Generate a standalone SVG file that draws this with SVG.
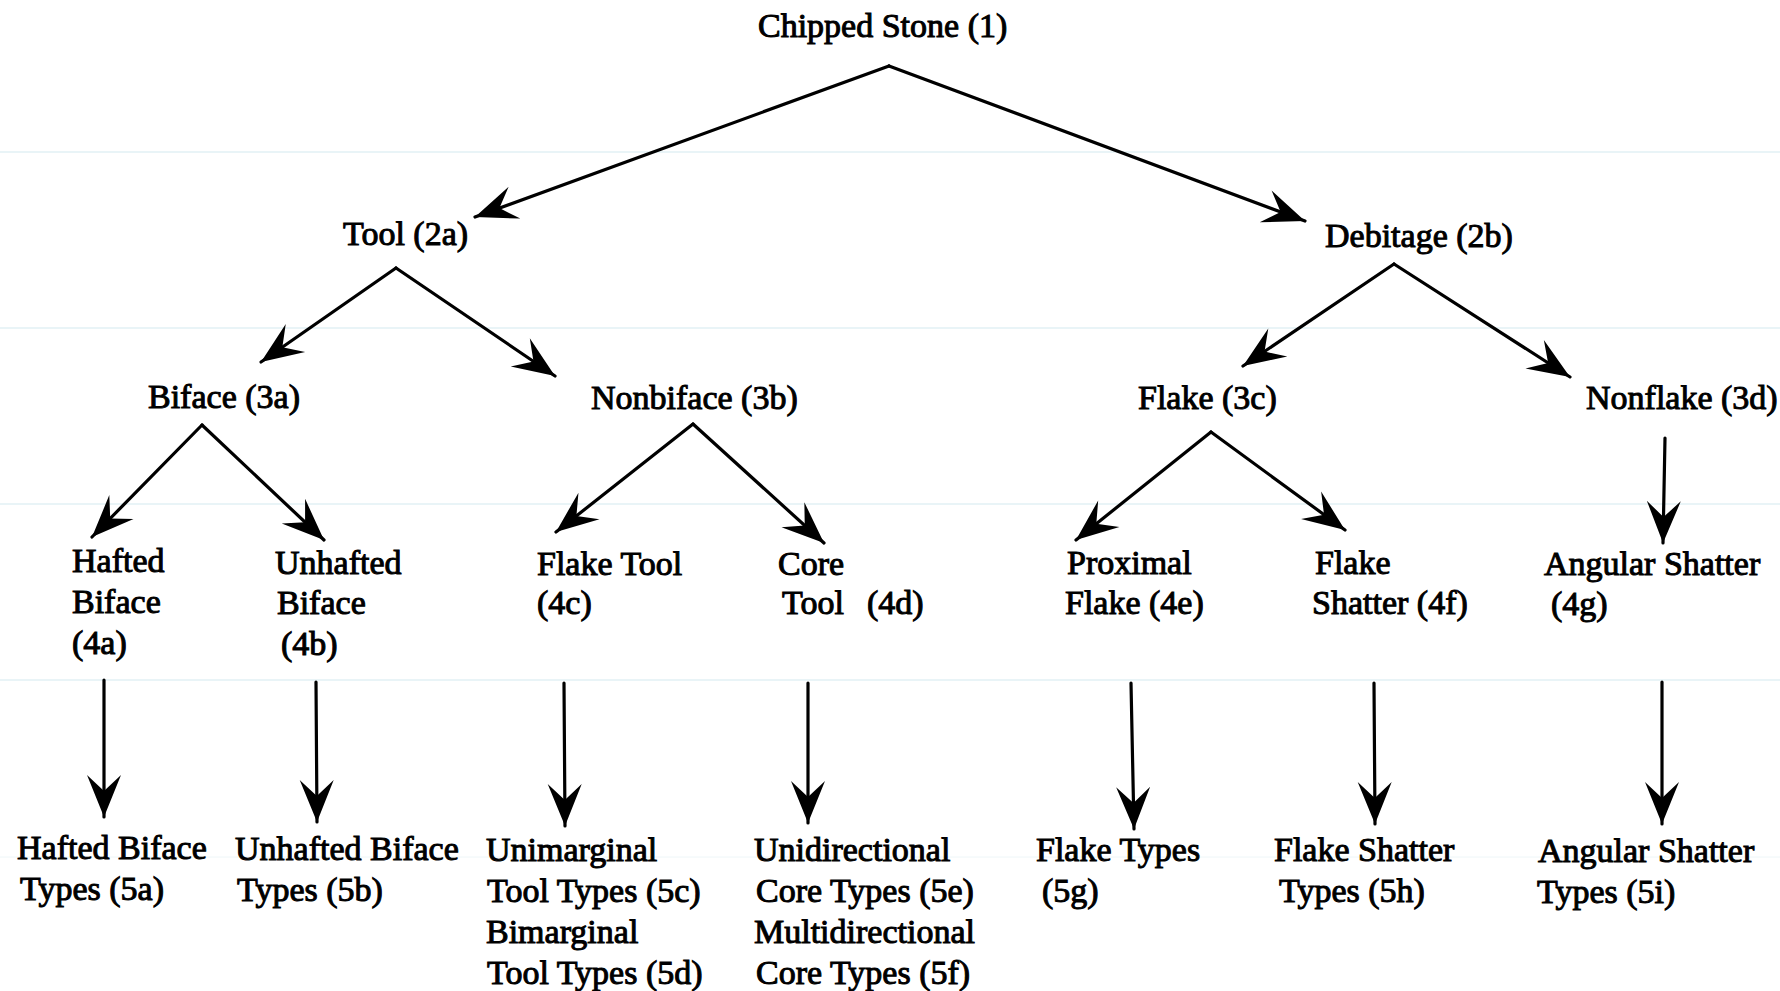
<svg xmlns="http://www.w3.org/2000/svg" width="1780" height="991" viewBox="0 0 1780 991">
<style>
.t{font-family:"Liberation Serif","Times New Roman",serif;font-size:34px;fill:#000;stroke:#000;stroke-width:1}
.c{stroke:#000;stroke-width:3.2;fill:none;stroke-linecap:round;marker-end:url(#ah)}
.g{stroke:#d3e9ef;stroke-width:1.2}
</style>
<defs>
<marker id="ah" markerUnits="userSpaceOnUse" orient="auto" markerWidth="50" markerHeight="44" viewBox="-46 -22 50 44" refX="0" refY="0">
<path d="M0,0 L-42,-17 L-26,0 L-42,17 Z" fill="#000"/>
</marker>
</defs>
<rect width="1780" height="991" fill="#fff"/>
<g id="guides">
<line class="g" x1="0" y1="152" x2="1780" y2="152"/>
<line class="g" x1="0" y1="328" x2="1780" y2="328"/>
<line class="g" x1="0" y1="504" x2="1780" y2="504"/>
<line class="g" x1="0" y1="680" x2="1780" y2="680"/>
<line x1="0" y1="857" x2="1780" y2="857" stroke="#eef6f8" stroke-width="1"/>
</g>
<g id="connectors">
<path class="c" d="M889,66 L475,217"/>
<path class="c" d="M889,66 L1305,221"/>
<path class="c" d="M396,268 L261,362"/>
<path class="c" d="M396,268 L555,376"/>
<path class="c" d="M1394,264 L1243,366"/>
<path class="c" d="M1394,264 L1570,377"/>
<path class="c" d="M202,425 L92,537"/>
<path class="c" d="M202,425 L324,540"/>
<path class="c" d="M693,424 L556,532"/>
<path class="c" d="M693,424 L824,543"/>
<path class="c" d="M1211,432 L1076,540"/>
<path class="c" d="M1211,432 L1345,530"/>
<path class="c" d="M1665,438 L1663,543"/>
<path class="c" d="M104,680 L104,817"/>
<path class="c" d="M316,682 L317,822"/>
<path class="c" d="M564,683 L565,826"/>
<path class="c" d="M808,683 L808,823"/>
<path class="c" d="M1131,683 L1134,829"/>
<path class="c" d="M1374,683 L1375,824"/>
<path class="c" d="M1662,682 L1662,824"/>
</g>
<g id="n1"><text class="t" x="758" y="37">Chipped Stone (1)</text></g>
<g id="n2a"><text class="t" x="343" y="245">Tool (2a)</text></g>
<g id="n2b"><text class="t" x="1325" y="247">Debitage (2b)</text></g>
<g id="n3a"><text class="t" x="148" y="408">Biface (3a)</text></g>
<g id="n3b"><text class="t" x="591" y="409">Nonbiface (3b)</text></g>
<g id="n3c"><text class="t" x="1138" y="409">Flake (3c)</text></g>
<g id="n3d"><text class="t" x="1586" y="409">Nonflake (3d)</text></g>
<g id="n4a"><text class="t" x="72" y="572">Hafted</text><text class="t" x="72" y="613">Biface</text><text class="t" x="72" y="654">(4a)</text></g>
<g id="n4b"><text class="t" x="275" y="574">Unhafted</text><text class="t" x="277" y="614">Biface</text><text class="t" x="281" y="655">(4b)</text></g>
<g id="n4c"><text class="t" x="537" y="575">Flake Tool</text><text class="t" x="537" y="614">(4c)</text></g>
<g id="n4d"><text class="t" x="778" y="575">Core</text><text class="t" x="782" y="614">Tool</text><text class="t" x="867" y="614">(4d)</text></g>
<g id="n4e"><text class="t" x="1067" y="574">Proximal</text><text class="t" x="1065" y="614">Flake (4e)</text></g>
<g id="n4f"><text class="t" x="1315" y="574">Flake</text><text class="t" x="1312" y="614">Shatter (4f)</text></g>
<g id="n4g"><text class="t" x="1544" y="575">Angular Shatter</text><text class="t" x="1551" y="615">(4g)</text></g>
<g id="n5a"><text class="t" x="17" y="859">Hafted Biface</text><text class="t" x="20" y="900">Types (5a)</text></g>
<g id="n5b"><text class="t" x="235" y="860">Unhafted Biface</text><text class="t" x="237" y="901">Types (5b)</text></g>
<g id="n5cd"><text class="t" x="486" y="861">Unimarginal</text><text class="t" x="487" y="902">Tool Types (5c)</text><text class="t" x="486" y="943">Bimarginal</text><text class="t" x="487" y="984">Tool Types (5d)</text></g>
<g id="n5ef"><text class="t" x="754" y="861">Unidirectional</text><text class="t" x="756" y="902">Core Types (5e)</text><text class="t" x="754" y="943">Multidirectional</text><text class="t" x="756" y="984">Core Types (5f)</text></g>
<g id="n5g"><text class="t" x="1036" y="861">Flake Types</text><text class="t" x="1042" y="902">(5g)</text></g>
<g id="n5h"><text class="t" x="1274" y="861">Flake Shatter</text><text class="t" x="1279" y="902">Types (5h)</text></g>
<g id="n5i"><text class="t" x="1538" y="862">Angular Shatter</text><text class="t" x="1537" y="903">Types (5i)</text></g>
</svg>
